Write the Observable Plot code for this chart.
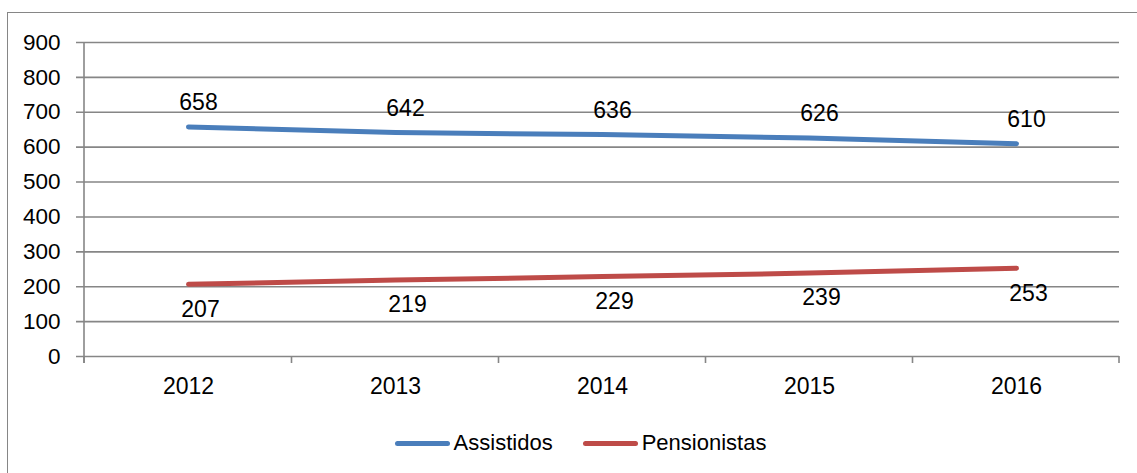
<!DOCTYPE html>
<html>
<head>
<meta charset="utf-8">
<script src="https://cdn.jsdelivr.net/npm/d3@7"></script>
<script src="https://cdn.jsdelivr.net/npm/@observablehq/plot@0.6"></script>
<style>
  html, body { margin: 0; padding: 0; background: #fff; }
  body { width: 1137px; height: 473px; position: relative; overflow: hidden; font-family: "Liberation Sans", Arial, sans-serif; }
  #border { position: absolute; left: 7px; top: 12px; width: 1140px; height: 470px; border: 1.5px solid #868686; box-sizing: border-box; }
  #chart { position: absolute; left: 0; top: 0; }
  #legend { position: absolute; left: 0; top: 430px; width: 1137px; display: flex; justify-content: center; align-items: center; font-size: 22px; color: #000; padding-left: 24px; box-sizing: border-box; }
  .item { display: flex; align-items: center; }
  .sw { width: 55px; height: 5px; border-radius: 3px; margin-right: 4px; }
</style>
</head>
<body>
<div id="border"></div>
<div id="chart"></div>
<div id="legend"></div>
<script>
const years = ["2012", "2013", "2014", "2015", "2016"];
const assistidos = [658, 642, 636, 626, 610];
const pensionistas = [207, 219, 229, 239, 253];
const seriesNames = ["Assistidos", "Pensionistas"];
const seriesColors = ["#4A7EBB", "#BE4B48"];
const yTicks = [0, 100, 200, 300, 400, 500, 600, 700, 800, 900];

const rowsA = years.map((y, i) => ({year: y, value: assistidos[i], series: seriesNames[0]}));
const rowsP = years.map((y, i) => ({year: y, value: pensionistas[i], series: seriesNames[1]}));
const rows = rowsA.concat(rowsP);

const gridColor = "#868686";
const fontStack = "'Liberation Sans', Arial, sans-serif";

function axisDecor(index, scales, values, dimensions) {
  const {width, height, marginLeft, marginRight, marginBottom, marginTop} = dimensions;
  const x = scales.x;
  const x0 = marginLeft, x1 = width - marginRight;
  const yb = height - marginBottom;
  const pos = years.map(d => x(d));
  const bounds = [x0];
  for (let i = 1; i < pos.length; i++) bounds.push((pos[i - 1] + pos[i]) / 2);
  bounds.push(x1);
  const g = d3.create("svg:g");
  g.append("line").attr("x1", x0).attr("x2", x0).attr("y1", marginTop).attr("y2", yb + 7)
    .attr("stroke", gridColor).attr("stroke-width", 1.6);
  for (const b of bounds) {
    g.append("line").attr("x1", b).attr("x2", b).attr("y1", yb).attr("y2", yb + 7)
      .attr("stroke", gridColor).attr("stroke-width", 1.6);
  }
  return g.node();
}

const chart = Plot.plot({
  width: 1137,
  height: 420,
  marginLeft: 84,
  marginRight: 18,
  marginTop: 42,
  marginBottom: 64,
  style: {fontFamily: fontStack, fontSize: "22px", color: "#000", background: "transparent"},
  x: {type: "point", domain: years, padding: 0.5, label: null},
  y: {domain: [0, 900], label: null},
  color: {domain: seriesNames, range: seriesColors},
  marks: [
    Plot.ruleY(yTicks, {stroke: gridColor, strokeWidth: 1.6, strokeOpacity: 1, insetLeft: -8}),
    Plot.axisY(yTicks, {tickSize: 0, tickPadding: 24, fontSize: 22.5, fill: "#000", label: null}),
    Plot.axisX({tickSize: 0, tickPadding: 21, fontSize: 23, fill: "#000", label: null}),
    axisDecor,
    Plot.line(rows, {x: "year", y: "value", z: "series", stroke: "series", strokeWidth: 5, strokeLinecap: "round", strokeLinejoin: "round"}),
    Plot.text(rowsA, {x: "year", y: "value", text: d => String(d.value), dx: 10, dy: -24, fontSize: 23, fill: "#000"}),
    Plot.text(rowsP, {x: "year", y: "value", text: d => String(d.value), dx: 12, dy: 25, fontSize: 23, fill: "#000"})
  ]
});
document.getElementById("chart").appendChild(chart);

const legend = document.getElementById("legend");
seriesNames.forEach((name, i) => {
  const item = document.createElement("div");
  item.className = "item";
  if (i > 0) item.style.marginLeft = "30px";
  const sw = document.createElement("div");
  sw.className = "sw";
  sw.style.background = seriesColors[i];
  const label = document.createElement("span");
  label.textContent = name;
  item.appendChild(sw);
  item.appendChild(label);
  legend.appendChild(item);
});
</script>
</body>
</html>
